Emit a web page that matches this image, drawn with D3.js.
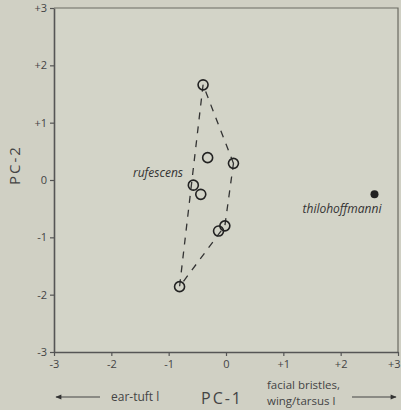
<!DOCTYPE html>
<html>
<head>
<meta charset="utf-8">
<script src="https://cdn.jsdelivr.net/npm/d3@7"></script>
<style>
  body { margin: 0; background: #d0d0c4; }
  svg { display: block; }
  .tick text { font-family: "Open Sans", sans-serif; font-size: 11px; fill: #444; }
</style>
</head>
<body>
<svg id="chart"></svg>
<script>
const width = 401;
const height = 410;

// rufescens specimens (PC-1, PC-2)
const rufX = [-0.40, -0.32, 0.13, -0.57, -0.44, -0.02, -0.13, -0.81];
const rufY = [1.66, 0.39, 0.29, -0.09, -0.25, -0.80, -0.89, -1.86];
// thilohoffmanni
const thiloX = [2.59];
const thiloY = [-0.25];
const tickValues = [-3, -2, -1, 0, 1, 2, 3];
const tickLabels = ["-3", "-2", "-1", "0", "+1", "+2", "+3"];

const svg = d3.select('#chart')
  .attr('width', width)
  .attr('height', height);

svg.append('rect')
  .attr('width', width)
  .attr('height', height)
  .attr('fill', '#d0d0c4');

const x = d3.scaleLinear().domain([-3, 3]).range([54, 398]);
const y = d3.scaleLinear().domain([-3, 3]).range([352, 8]);

// plot area, slightly lighter
svg.append('rect')
  .attr('x', x(-3)).attr('y', y(3))
  .attr('width', x(3) - x(-3)).attr('height', y(-3) - y(3))
  .attr('fill', '#d3d4c8');

// top and right frame
svg.append('path')
  .attr('d', `M${x(-3)},${y(3)}H${x(3)}V${y(-3)}`)
  .attr('fill', 'none')
  .attr('stroke', '#6a6a62')
  .attr('stroke-width', 1.2);

const fmt = d => tickLabels[tickValues.indexOf(d)];

const yAxis = svg.append('g')
  .attr('transform', `translate(${x(-3)},0)`)
  .call(d3.axisLeft(y).tickValues(tickValues).tickFormat(fmt).tickSize(4).tickSizeOuter(0).tickPadding(3));

const xAxis = svg.append('g')
  .attr('transform', `translate(0,${y(-3)})`)
  .call(d3.axisBottom(x).tickValues(tickValues).tickFormat(fmt).tickSize(4).tickSizeOuter(0).tickPadding(4));

// keep the last x label inside the page
xAxis.selectAll('.tick text')
  .filter(d => d === 3)
  .attr('text-anchor', 'end')
  .attr('x', 2);

[xAxis, yAxis].forEach(g => {
  g.select('.domain').attr('stroke', '#555').attr('stroke-width', 1.6);
  g.selectAll('.tick line').attr('stroke', '#555').attr('stroke-width', 1.2);
});

// convex hull round rufescens
const rufPts = rufX.map((v, i) => [x(v), y(rufY[i])]);
const hull = d3.polygonHull(rufPts);
svg.append('path')
  .attr('d', 'M' + hull.join('L') + 'Z')
  .attr('fill', 'none')
  .attr('stroke', '#333')
  .attr('stroke-width', 1.3)
  .attr('stroke-dasharray', '7,7');

svg.append('g')
  .selectAll('circle')
  .data(rufX)
  .enter()
  .append('circle')
  .attr('cx', d => x(d))
  .attr('cy', (d, i) => y(rufY[i]))
  .attr('r', 5)
  .attr('fill', 'none')
  .attr('stroke', '#222')
  .attr('stroke-width', 1.6);

svg.append('g')
  .selectAll('circle')
  .data(thiloX)
  .enter()
  .append('circle')
  .attr('cx', d => x(d))
  .attr('cy', (d, i) => y(thiloY[i]))
  .attr('r', 4)
  .attr('fill', '#222');

// species labels
svg.append('text')
  .attr('x', 183).attr('y', 177)
  .attr('text-anchor', 'end')
  .attr('font-family', '"Open Sans", sans-serif')
  .attr('font-style', 'italic')
  .attr('font-size', 12)
  .attr('fill', '#333')
  .text('rufescens');

svg.append('text')
  .attr('x', 342).attr('y', 213)
  .attr('text-anchor', 'middle')
  .attr('font-family', '"Open Sans", sans-serif')
  .attr('font-style', 'italic')
  .attr('font-size', 12)
  .attr('fill', '#333')
  .text('thilohoffmanni');

// axis titles
svg.append('text')
  .attr('transform', 'translate(20,165) rotate(-90)')
  .attr('text-anchor', 'middle')
  .attr('font-family', '"Open Sans", sans-serif')
  .attr('font-size', 15)
  .attr('letter-spacing', 2)
  .attr('fill', '#444')
  .text('PC-2');

svg.append('text')
  .attr('x', 222).attr('y', 404)
  .attr('text-anchor', 'middle')
  .attr('font-family', '"Open Sans", sans-serif')
  .attr('font-size', 16)
  .attr('letter-spacing', 2)
  .attr('fill', '#444')
  .text('PC-1');

svg.append('text')
  .attr('x', 111).attr('y', 401)
  .attr('font-family', '"Open Sans", sans-serif')
  .attr('font-size', 12)
  .attr('fill', '#444')
  .text('ear-tuft l');

svg.append('text')
  .attr('x', 267).attr('y', 389)
  .attr('font-family', '"Open Sans", sans-serif')
  .attr('font-size', 11.5)
  .attr('fill', '#444')
  .text('facial bristles,');

svg.append('text')
  .attr('x', 267).attr('y', 405)
  .attr('font-family', '"Open Sans", sans-serif')
  .attr('font-size', 11.5)
  .attr('fill', '#444')
  .text('wing/tarsus l');

// direction arrows
const defs = svg.append('defs');
defs.append('marker')
  .attr('id', 'head')
  .attr('viewBox', '0 0 10 10')
  .attr('refX', 9).attr('refY', 5)
  .attr('markerWidth', 9).attr('markerHeight', 6)
  .attr('orient', 'auto')
  .append('path')
  .attr('d', 'M0,1L10,5L0,9Z')
  .attr('fill', '#333');

svg.append('line')
  .attr('x1', 100).attr('y1', 397).attr('x2', 56).attr('y2', 397)
  .attr('stroke', '#444').attr('stroke-width', 1)
  .attr('marker-end', 'url(#head)');

svg.append('line')
  .attr('x1', 352).attr('y1', 397).attr('x2', 396).attr('y2', 397)
  .attr('stroke', '#444').attr('stroke-width', 1)
  .attr('marker-end', 'url(#head)');
</script>
</body>
</html>
